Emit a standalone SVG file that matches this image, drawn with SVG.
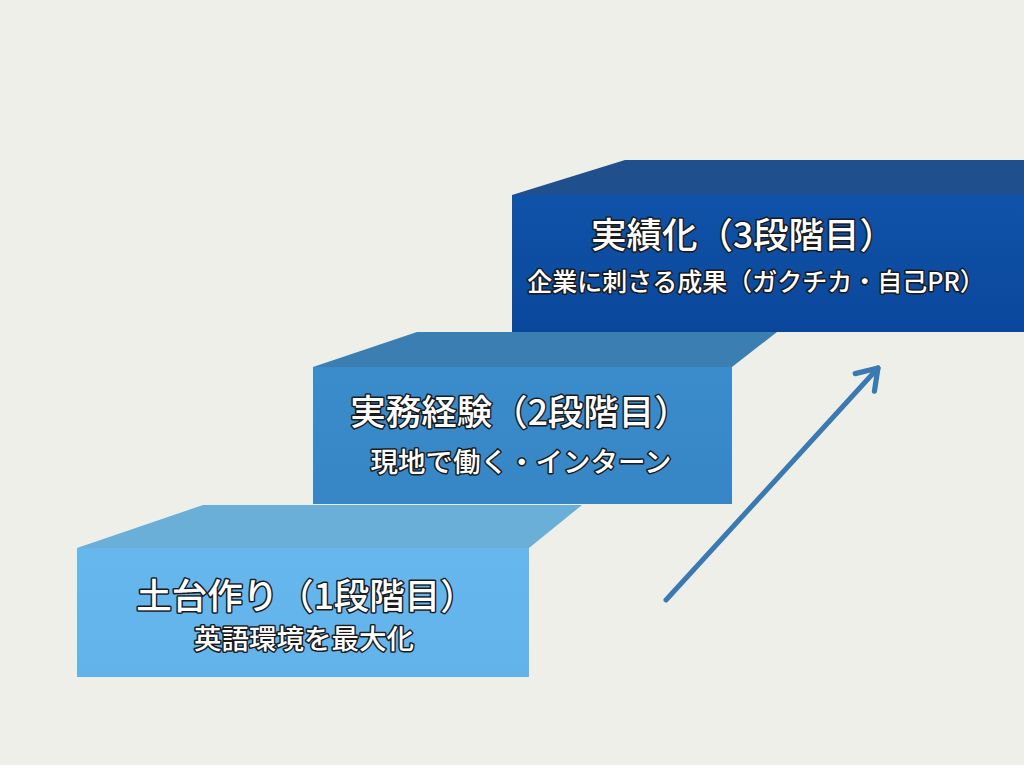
<svg xmlns="http://www.w3.org/2000/svg" width="1024" height="765" viewBox="0 0 1024 765">
<defs>
<style>
.t{font-family:"Noto Sans CJK JP","Noto Sans",sans-serif;fill:#ffffff;stroke:#1a1a1a;stroke-width:3;paint-order:stroke;stroke-linejoin:round;text-anchor:middle;font-weight:500}
.h{font-size:35.5px}
.s{font-size:27.5px}
.s3{font-size:25px}
</style>
<linearGradient id="g3" x1="0" y1="0" x2="0" y2="1"><stop offset="0" stop-color="#0f53a8"/><stop offset="1" stop-color="#0a479c"/></linearGradient>
<linearGradient id="g2" x1="0" y1="0" x2="0" y2="1"><stop offset="0" stop-color="#3b8ccb"/><stop offset="1" stop-color="#3686c6"/></linearGradient>
<linearGradient id="g1" x1="0" y1="0" x2="0" y2="1"><stop offset="0" stop-color="#66b7ee"/><stop offset="1" stop-color="#62b3ea"/></linearGradient>
<marker id="ah" viewBox="0 0 20 20" refX="14" refY="10" markerWidth="6.5" markerHeight="6.5" markerUnits="strokeWidth" orient="auto"><path d="M2,2 L14,10 L2,18" fill="none" stroke="#3a79b2" stroke-width="3.2" stroke-linecap="round" stroke-linejoin="round"/></marker>
</defs>
<rect width="1024" height="765" fill="#efefe9"/>
<g id="step3">
<polygon points="512,195 625,160 1024,160 1024,195" fill="#1f4f8d"/>
<rect x="512" y="195" width="512" height="137" fill="url(#g3)"/>
<text class="t h" x="743" y="248">実績化（3段階目）</text>
<text class="t s3" x="756" y="291">企業に刺さる成果（ガクチカ・自己PR）</text>
</g>
<g id="step2">
<polygon points="313,367 417,332 777,332 732,367" fill="#3b7eb2"/>
<rect x="313" y="367" width="419" height="137" fill="url(#g2)"/>
<text class="t h" x="520" y="425">実務経験（2段階目）</text>
<text class="t s" x="521" y="472">現地で働く・インターン</text>
</g>
<g id="step1">
<polygon points="77,548 203,505 582,505 529,548" fill="#6aafd8"/>
<rect x="77" y="548" width="452" height="129" fill="url(#g1)"/>
<text class="t h" x="306" y="609">土台作り（1段階目）</text>
<text class="t s" x="304" y="649">英語環境を最大化</text>
</g>
<g id="connectors">
<line x1="666" y1="600" x2="878" y2="368" stroke="#3a79b2" stroke-width="5" stroke-linecap="round" marker-end="url(#ah)"/>
</g>
</svg>
